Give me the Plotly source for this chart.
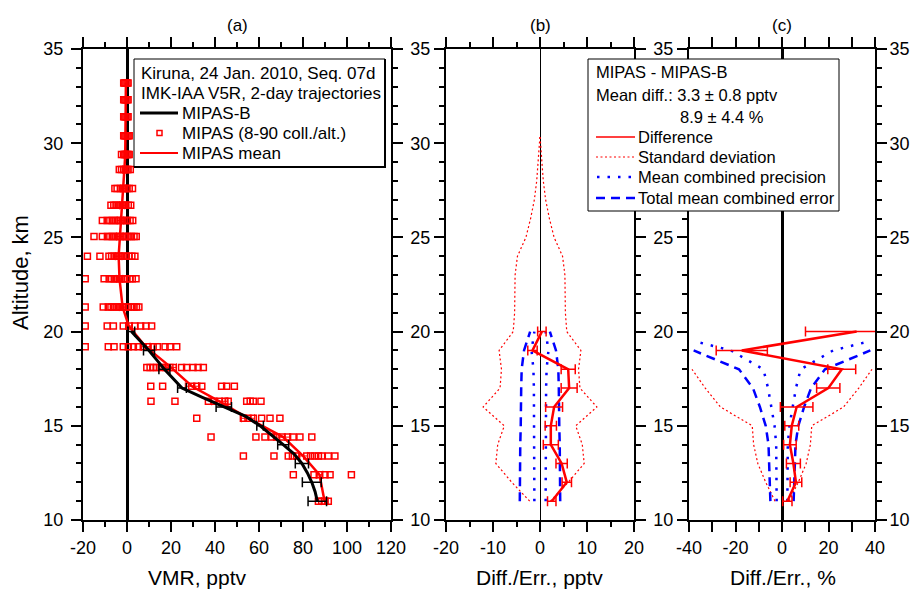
import numpy as np
import plotly.graph_objects as go

W, H = 917, 593
FONT = "Liberation Sans, Arial, sans-serif"

# ---------------- Panel (a) data ----------------
mipas_alt = [33.2, 32.3, 31.4, 30.4, 29.4, 28.6, 27.6, 26.7, 25.9, 25.05, 24.0, 22.8,
             21.3, 20.3, 19.2, 18.1, 17.1, 16.3, 15.4, 14.4, 13.4, 12.4, 11.0]
mipas_vmr = [
    [-1.5, -1.0, -0.5, 0.0, 0.5],
    [-1.5, -1.0, -0.5, 0.0, 0.5],
    [-1.5, -1.0, -0.5, 0.0, 0.5],
    [-1.5, -1.0, -0.5, 0.0, 0.5, 1.0],
    [-2.5, -1.5, -1.0, -0.5, 0.0, 0.5, 1.0],
    [-3.5, -2.5, -1.5, -0.5, 0.0, 0.5, 1.5],
    [-5.5, -4.5, -3.0, -2.0, -1.0, 0.0, 1.0, 2.5],
    [-7.3, -6.0, -5.0, -3.9, -2.8, -1.6, -0.5, 0.6, 1.7],
    [-11.2, -9.0, -7.8, -6.7, -5.5, -4.4, -3.2, -2.1, -1.0, 0.2, 1.4, 2.6],
    [-15.0, -11.2, -8.9, -7.8, -6.7, -5.5, -4.4, -3.2, -2.1, -1.0, 0.0, 0.9, 2.0, 3.2, 4.2],
    [-18.0, -12.3, -8.2, -7.0, -5.9, -4.7, -3.6, -2.5, -1.4, -0.3, 0.9, 2.2, 3.6],
    [-19.0, -10.4, -8.1, -7.0, -5.8, -4.7, -3.5, -2.4, -1.2, 0.0, 1.2, 2.4, 4.1],
    [-19.0, -10.8, -8.5, -7.3, -6.2, -5.0, -3.9, -2.8, -1.7, -0.5, 0.6, 2.0, 3.2, 4.3, 5.4],
    [-19.0, -9.0, -6.2, -1.7, 1.0, 3.6, 6.2, 8.6, 11.2],
    [-19.0, -8.5, -5.9, -1.7, 0.6, 2.9, 5.1, 7.4, 9.6, 11.9, 13.8, 17.3, 19.5, 22.6],
    [9.0, 10.5, 12.0, 13.5, 15.5, 17.5, 19.5, 21.0, 24.8, 27.1, 30.0, 32.3, 34.7],
    [10.8, 16.2, 29.4, 31.7, 34.0, 43.0, 45.3, 48.8],
    [10.9, 21.8, 37.0, 39.5, 42.0, 44.5, 46.0, 54.4, 56.0, 57.4, 60.9],
    [31.7, 52.9, 55.0, 57.4, 61.2, 65.0, 69.5],
    [38.2, 58.6, 62.7, 65.8, 68.0, 70.5, 73.0, 75.5, 78.6, 84.0],
    [52.9, 66.8, 73.3, 75.2, 77.1, 81.7, 83.5, 85.3, 87.0, 88.5, 91.5, 94.5],
    [75.6, 85.0, 87.5, 90.0, 92.3, 102.0],
    [87.0, 88.5, 90.0, 91.5],
]
mipas_mean = [-0.5, -0.5, -0.5, -0.5, -0.8, -1.2, -1.8, -2.2, -3.0, -3.3, -3.8, -3.4,
              -2.0, 0.8, 8.5, 20.0, 29.5, 42.0, 55.0, 71.0, 80.0, 87.5, 89.8]
mipas_mean_err = [0.3, 0.3, 0.3, 0.3, 0.5, 0.8, 1.0, 1.2, 1.5, 1.5, 1.5, 1.5,
                  1.5, 1.5, 2.0, 2.5, 3.0, 3.5, 3.0, 3.0, 2.0, 1.5, 1.5]

mipasb_alt = [11.0, 11.5, 12.0, 12.5, 13.0, 13.5, 14.0, 14.5, 15.0, 15.5, 16.0, 16.5,
              17.0, 17.5, 18.0, 18.5, 19.0, 19.5, 20.0]
mipasb_vmr = [86.5, 85.5, 84.0, 82.0, 79.5, 76.0, 71.0, 66.0, 60.5, 54.0, 44.0, 34.5,
              25.0, 21.0, 17.0, 13.5, 10.0, 6.0, 2.0]
mipasb_err_alt = [11, 12, 13, 14, 15, 16, 17, 18, 19, 20]
mipasb_err = [4.2, 4.3, 3.0, 2.5, 1.5, 3.5, 2.0, 2.5, 2.5, 1.5]

# ---------------- Panel (b) data (pptv) ----------------
diff_alt = [11, 12, 13, 14, 15, 16, 17, 18, 19, 20]
diff_b = [2.5, 5.7, 4.6, 2.3, 2.3, 3.0, 6.2, 6.0, -1.6, 0.4]
diff_b_err = [0.9, 1.0, 1.2, 1.6, 1.2, 1.8, 1.7, 1.5, 1.0, 0.9]
std_b_alt = [11, 12, 13, 14, 15, 16, 17, 18, 19, 20, 21, 22, 23, 24, 25, 26, 27, 28, 29, 30, 30.4]
std_b = [2.2, 6.0, 9.4, 9.0, 7.6, 12.1, 8.5, 8.2, 8.7, 5.7, 5.4, 5.4, 5.3, 4.8, 3.0, 2.0,
         1.2, 0.7, 0.4, 0.1, 0.0]
prec_b = [1.2, 1.2, 1.2, 1.2, 1.3, 1.3, 1.3, 1.4, 1.8, 1.2]
total_b = [4.3, 4.3, 4.2, 4.2, 4.1, 4.1, 4.0, 3.9, 3.4, 2.1]

# ---------------- Panel (c) data (%) ----------------
diff_c = [2.3, 6.0, 4.9, 3.4, 4.2, 6.3, 19.9, 25.7, -17.3, 32.1]
diff_c_err = [2.0, 2.5, 3.0, 2.7, 3.0, 7.0, 5.0, 6.0, 11.0, 22.0]
std_c_alt = [11, 12, 13, 14, 15, 16, 17, 18]
std_c = [3.0, 7.0, 10.4, 12.2, 12.8, 26.5, 33.0, 38.7]
prec_c_alt = [11, 12, 13, 14, 15, 16, 17, 18, 19, 19.5]
prec_c = [2.3, 2.3, 2.4, 2.5, 3.2, 4.5, 6.0, 8.0, 22.0, 38.0]
total_c_alt = [11, 12, 13, 14, 15, 16, 17, 18, 19]
total_c = [5.0, 5.2, 5.5, 5.8, 7.0, 9.5, 12.5, 18.5, 38.0]

# tick labels
xa_ticks = [-20, 0, 20, 40, 60, 80, 100, 120]
xb_ticks = [-20, -10, 0, 10, 20]
xc_ticks = [-40, -20, 0, 20, 40]
y_ticks = [10, 15, 20, 25, 30, 35]

# ---------------- figure ----------------
def px(x):
    return x / W

def py(y):
    return 1 - y / H

fig = go.Figure()

# panel (a)
sx, sy = [], []
for a, vals in zip(mipas_alt, mipas_vmr):
    sx += vals
    sy += [a] * len(vals)
fig.add_trace(go.Scatter(x=sx, y=sy, mode="markers", xaxis="x", yaxis="y",
                         marker=dict(symbol="square-open", size=6, color="red",
                                     line=dict(width=1.5, color="red")),
                         showlegend=False))
fig.add_trace(go.Scatter(x=mipas_mean, y=mipas_alt, mode="lines", xaxis="x", yaxis="y",
                         line=dict(color="red", width=2.5),
                         error_x=dict(type="data", array=mipas_mean_err, color="red",
                                      thickness=1, width=4),
                         showlegend=False))
fig.add_trace(go.Scatter(x=mipasb_vmr, y=mipasb_alt, mode="lines", xaxis="x", yaxis="y",
                         line=dict(color="black", width=3), showlegend=False))
errx = np.interp(mipasb_err_alt, mipasb_alt, mipasb_vmr)
fig.add_trace(go.Scatter(x=errx, y=mipasb_err_alt, mode="markers", xaxis="x", yaxis="y",
                         marker=dict(size=1, color="black", opacity=0),
                         error_x=dict(type="data", array=mipasb_err, color="black",
                                      thickness=1.5, width=5),
                         showlegend=False))


def add_panel(xa, ya, d, derr, s_alt, s, p_alt, p, t_alt, t):
    s = np.array(s); p = np.array(p); t = np.array(t)
    for sign in (-1, 1):
        fig.add_trace(go.Scatter(x=sign * s, y=s_alt, mode="lines", xaxis=xa, yaxis=ya,
                                 line=dict(color="red", width=1.2, dash="2px,2.5px"),
                                 showlegend=False))
    for sign in (-1, 1):
        fig.add_trace(go.Scatter(x=sign * t, y=t_alt, mode="lines", xaxis=xa, yaxis=ya,
                                 line=dict(color="blue", width=2.5, dash="9px,6px"),
                                 showlegend=False))
    for sign in (-1, 1):
        fig.add_trace(go.Scatter(x=sign * p, y=p_alt, mode="lines", xaxis=xa, yaxis=ya,
                                 line=dict(color="blue", width=2.5, dash="2.5px,8px"),
                                 showlegend=False))
    fig.add_trace(go.Scatter(x=d, y=diff_alt, mode="lines", xaxis=xa, yaxis=ya,
                             line=dict(color="red", width=2.5),
                             error_x=dict(type="data", array=derr, color="red",
                                          thickness=1.5, width=5),
                             showlegend=False))


add_panel("x2", "y2", diff_b, diff_b_err, std_b_alt, std_b, diff_alt, prec_b, diff_alt, total_b)
add_panel("x3", "y3", diff_c, diff_c_err, std_c_alt, std_c, prec_c_alt, prec_c, total_c_alt, total_c)

# invisible trace so the right-hand altitude labels of panel (c) are drawn
fig.add_trace(go.Scatter(x=diff_c, y=diff_alt, mode="lines", xaxis="x3", yaxis="y4",
                         line=dict(width=0, color="rgba(0,0,0,0)"), hoverinfo="skip",
                         showlegend=False))

ydom = [1 - 520 / H, 1 - 49 / H]
tickfont = dict(family=FONT, size=18, color="black")


def xax(dom, rng, ticks, mdtick, zw, anchor):
    return dict(domain=dom, range=rng, tickmode="array", tickvals=ticks,
                ticktext=[str(v) for v in ticks], anchor=anchor,
                showline=True, linecolor="black", linewidth=2, mirror="allticks",
                ticks="outside", ticklen=10, tickwidth=2, tickcolor="black",
                minor=dict(ticks="outside", ticklen=5, tickwidth=1.5, tickcolor="black",
                           dtick=mdtick, tick0=0),
                showgrid=False, zeroline=True, zerolinecolor="black", zerolinewidth=zw,
                tickfont=tickfont, automargin=False)


def yax(anchor, labels):
    return dict(domain=ydom, range=[10, 35], tickmode="array", tickvals=y_ticks,
                ticktext=labels, anchor=anchor,
                showline=True, linecolor="black", linewidth=2, mirror="allticks",
                ticks="outside", ticklen=10, tickwidth=2, tickcolor="black",
                minor=dict(ticks="outside", ticklen=5, tickwidth=1.5, tickcolor="black",
                           dtick=1, tick0=0),
                showgrid=False, zeroline=False, tickfont=tickfont, automargin=False)


ylab = [str(v) for v in y_ticks]
ylab_c = [("" if v == 30 else str(v)) for v in y_ticks]   # hidden by the legend box
ya = yax("x", ylab); ya["ticklabelstandoff"] = 4
fig.update_layout(
    width=W, height=H, autosize=False,
    margin=dict(l=0, r=0, t=0, b=0),
    paper_bgcolor="white", plot_bgcolor="white",
    font=dict(family=FONT, color="black"),
    showlegend=False,
    xaxis=xax([px(83), px(391)], [-20, 120], xa_ticks, 10, 2.5, "y"),
    yaxis=ya,
    xaxis2=xax([px(446), px(634)], [-20, 20], xb_ticks, 5, 1, "y2"),
    yaxis2=yax("x2", ylab),
    xaxis3=xax([px(689), px(875)], [-40, 40], xc_ticks, 10, 2.5, "y3"),
    yaxis3=yax("x3", ylab_c),
    yaxis4=dict(domain=ydom, range=[10, 35], tickmode="array", tickvals=y_ticks, ticktext=ylab,
                anchor="x3", overlaying="y3",
                side="right", showline=False, ticks="outside", ticklen=10,
                tickcolor="rgba(0,0,0,0)",
                showgrid=False, zeroline=False, tickfont=tickfont, automargin=False),
)

ann = []
def text(x, y, s, size=17, xanchor="left", angle=0):
    ann.append(dict(x=px(x), y=py(y), xref="paper", yref="paper", text=s, showarrow=False,
                    xanchor=xanchor, yanchor="middle", textangle=angle,
                    font=dict(family=FONT, size=size, color="black")))

text(237, 25, "(a)", 17, "center")
text(540, 25, "(b)", 17, "center")
text(782, 25, "(c)", 17, "center")
text(197, 577, "VMR, pptv", 21, "center")
text(539, 577, "Diff./Err., pptv", 21, "center")
text(783, 577, "Diff./Err., %", 21, "center")
text(21, 273, "Altitude, km", 22, "center", -90)

shapes = []
def rect(x0, y0, x1, y1):
    shapes.append(dict(type="rect", xref="paper", yref="paper", x0=px(x0), x1=px(x1),
                       y0=py(y1), y1=py(y0), fillcolor="white",
                       line=dict(color="black", width=1), layer="above"))

def seg(x0, y, x1, color, width, dash="solid"):
    shapes.append(dict(type="line", xref="paper", yref="paper", x0=px(x0), x1=px(x1),
                       y0=py(y), y1=py(y), line=dict(color=color, width=width, dash=dash),
                       layer="above"))

# legend (a)
rect(134, 59, 385, 167)
seg(134, 167, 386, "black", 2)
shapes.append(dict(type="line", xref="paper", yref="paper", x0=px(385), x1=px(385),
                   y0=py(59), y1=py(168), line=dict(color="black", width=2), layer="above"))
text(139, 73, "Kiruna, 24 Jan. 2010, Seq. 07d")
text(139, 93, "IMK-IAA V5R, 2-day trajectories")
seg(140, 113, 178, "black", 3)
text(180, 113, "MIPAS-B")
shapes.append(dict(type="rect", xref="paper", yref="paper", x0=px(157), x1=px(162),
                   y0=py(135.5), y1=py(130.5), line=dict(color="red", width=1.5),
                   fillcolor="white", layer="above"))
text(180, 133, "MIPAS (8-90 coll./alt.)")
seg(140, 153, 178, "red", 2)
text(180, 153, "MIPAS mean")

# legend (b/c)
rect(588, 59, 839, 211)
text(594, 72, "MIPAS - MIPAS-B", 16.5)
text(594, 95, "Mean diff.: 3.3 ± 0.8 pptv", 16.5)
text(678, 117, "8.9 ± 4.4 %", 16.5)
seg(596, 137, 635, "red", 1.5)
text(636, 137, "Difference", 16.5)
seg(596, 157, 635, "red", 1.2, "2px,2.5px")
text(636, 157, "Standard deviation", 16.5)
seg(597, 177, 635, "blue", 2.5, "2.5px,8px")
text(636, 177, "Mean combined precision", 16.5)
seg(596, 198, 637, "blue", 2.5, "9px,6px")
text(636, 198, "Total mean combined error", 16.5)

fig.update_layout(annotations=ann, shapes=shapes)
fig.write_html("out.html")
